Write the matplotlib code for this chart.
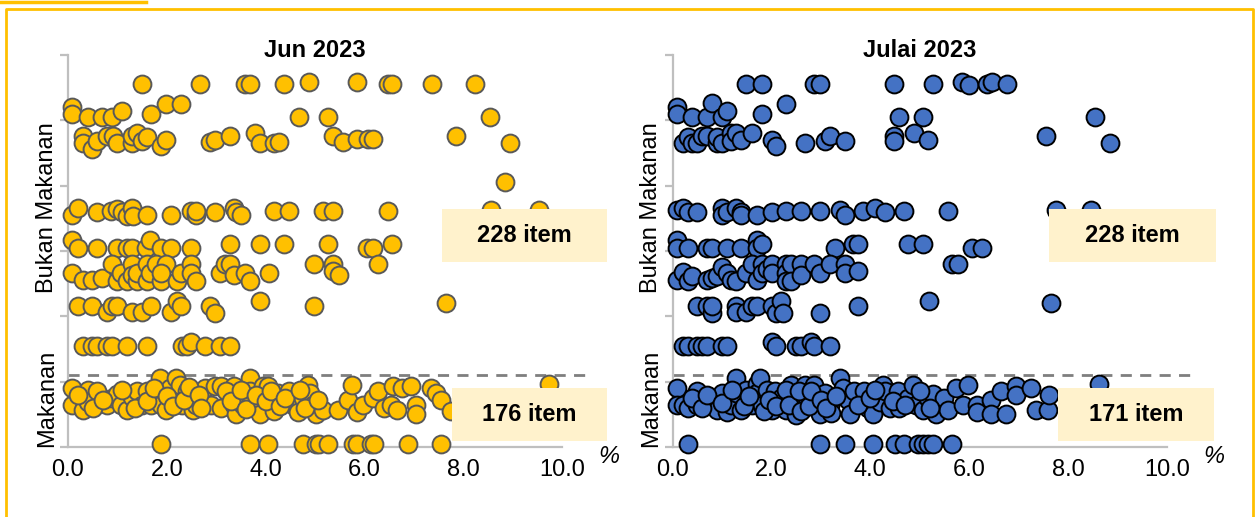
import matplotlib
matplotlib.use("Agg")
import matplotlib.pyplot as plt
from matplotlib.patches import Rectangle
from matplotlib.lines import Line2D

plt.rcParams['font.family'] = ['Liberation Sans', 'DejaVu Sans']

# ---- data: x = perubahan harga (%), y = posisi baris (jitter) ----
titles = ['Jun 2023', 'Julai 2023']
x_ticks = [0, 2, 4, 6, 8, 10]
tick_labels = ['0.0', '2.0', '4.0', '6.0', '8.0', '10.0']
group_labels = ['Bukan Makanan', 'Makanan']
count_bm = ['228 item', '228 item']
count_mk = ['176 item', '171 item']
split_line = 1.10

# Jun 2023 - bukan makanan
jun_bm_x = [1.50, 2.68, 3.58, 3.68, 4.37, 4.87, 5.86, 6.47, 6.56, 7.36, 8.24,
            0.09, 0.09, 0.40, 0.69, 0.89, 1.09, 1.69, 1.98, 2.28, 4.67, 5.27, 8.55,
            0.30, 0.30, 0.49, 0.59, 0.79, 0.92, 1.00, 1.29, 1.29, 1.39, 1.50, 1.60,
            1.88, 1.98, 2.88, 2.98, 3.27, 3.78, 3.88, 4.18, 4.27, 5.36, 5.56, 5.86,
            6.07, 6.17, 7.85, 8.94, 8.85,
            0.09, 0.21, 0.59, 0.88, 1.00, 1.10, 1.20, 1.29, 1.31, 1.59, 2.09, 2.48,
            2.59, 2.59, 2.97, 3.37, 3.41, 3.51, 4.18, 4.47, 5.16, 5.37, 6.47, 8.56, 9.54,
            0.09, 0.21, 0.59, 1.00, 1.19, 1.29, 1.58, 1.67, 1.89, 2.09, 2.48, 3.27,
            3.88, 4.37, 5.27, 6.05, 6.17, 6.55,
            0.09, 0.30, 0.49, 0.69, 0.89, 1.00, 1.08, 1.19, 1.29, 1.29, 1.39, 1.39,
            1.59, 1.60, 1.67, 1.79, 1.89, 1.99, 1.89, 2.20, 2.28, 2.48, 2.48, 2.59,
            3.07, 3.17, 3.27, 3.37, 3.58, 3.68, 4.07, 4.97, 5.36, 5.37, 5.48, 6.27,
            0.21, 0.49, 0.79, 0.89, 1.00, 1.29, 1.49, 1.69, 2.09, 2.20, 2.28, 2.88,
            2.98, 3.88, 4.97, 7.65,
            0.30, 0.49, 0.59, 0.79, 0.89, 1.19, 1.59, 2.30, 2.40, 2.48, 2.78, 3.07, 3.27]
jun_bm_y = [5.55, 5.55, 5.55, 5.55, 5.55, 5.59, 5.59, 5.55, 5.55, 5.55, 5.55,
            5.21, 5.10, 5.05, 5.05, 5.05, 5.15, 5.10, 5.25, 5.25, 5.05, 5.05, 5.05,
            4.76, 4.65, 4.56, 4.69, 4.76, 4.76, 4.65, 4.65, 4.76, 4.80, 4.69, 4.75,
            4.61, 4.70, 4.67, 4.70, 4.76, 4.80, 4.65, 4.66, 4.67, 4.76, 4.67, 4.71,
            4.71, 4.71, 4.76, 4.66, 4.05,
            3.55, 3.66, 3.60, 3.61, 3.65, 3.60, 3.54, 3.66, 3.54, 3.55, 3.55, 3.61,
            3.55, 3.61, 3.60, 3.66, 3.60, 3.55, 3.61, 3.61, 3.61, 3.61, 3.61, 3.62, 3.62,
            3.17, 3.04, 3.05, 3.05, 3.05, 3.05, 3.04, 3.17, 3.05, 3.04, 3.05, 3.10,
            3.10, 3.10, 3.10, 3.04, 3.05, 3.10,
            2.66, 2.56, 2.56, 2.59, 2.80, 2.54, 2.66, 2.54, 2.80, 2.63, 2.54, 2.66,
            2.80, 2.54, 2.66, 2.80, 2.54, 2.80, 2.66, 2.54, 2.66, 2.80, 2.66, 2.54,
            2.67, 2.80, 2.80, 2.63, 2.67, 2.54, 2.66, 2.80, 2.80, 2.70, 2.63, 2.80,
            2.16, 2.16, 2.06, 2.16, 2.16, 2.06, 2.06, 2.16, 2.06, 2.23, 2.16, 2.16,
            2.05, 2.23, 2.16, 2.21,
            1.55, 1.55, 1.55, 1.55, 1.55, 1.55, 1.55, 1.55, 1.55, 1.60, 1.55, 1.55, 1.55]

# Jun 2023 - makanan
jun_mk_x = [0.09, 0.09, 0.30, 0.40, 0.40, 0.59, 0.78, 0.89, 1.00, 1.08, 1.19, 1.29,
            1.39, 1.49, 1.59, 1.69, 1.86, 1.89, 1.89, 1.99, 2.06, 2.18, 2.18, 2.26,
            2.30, 2.40, 2.50, 2.53, 2.60, 2.77, 2.90, 2.97, 3.10, 3.10, 3.37, 3.37,
            3.41, 3.54, 3.68, 3.68, 3.71, 3.88, 3.95, 4.05, 4.15, 4.18, 4.25, 4.48,
            4.55, 4.65, 4.75, 4.85, 4.89, 4.96, 5.02, 5.16, 5.46, 5.66, 5.75, 5.86,
            5.97, 6.17, 6.27, 6.40, 6.54, 6.57, 6.67, 6.77, 6.94, 7.04, 7.04, 7.35,
            7.45, 7.55, 7.75, 9.74,
            0.20, 0.50, 0.70, 1.10, 1.35, 1.60, 1.75, 2.00, 2.12, 2.35, 2.45, 2.65,
            2.70, 3.20, 3.30, 3.50, 3.60, 3.80, 4.00, 4.10, 4.30, 4.40, 4.70, 4.80, 5.06,
            1.89, 3.68, 4.05, 4.75, 5.02, 5.09, 5.26, 5.76, 5.86, 6.13, 6.20, 6.88, 7.55]
jun_mk_y = [0.90, 0.65, 0.57, 0.87, 0.69, 0.85, 0.65, 0.75, 0.81, 0.65, 0.57, 0.77,
            0.85, 0.65, 0.86, 0.64, 1.05, 0.82, 0.65, 0.57, 0.90, 1.05, 0.75, 0.95,
            0.65, 0.85, 0.75, 0.57, 0.65, 0.90, 0.65, 0.94, 0.94, 0.60, 0.94, 0.65,
            0.50, 0.65, 1.05, 0.85, 0.72, 0.50, 0.94, 0.94, 0.65, 0.55, 0.82, 0.86,
            0.65, 0.54, 0.75, 0.95, 0.82, 0.65, 0.50, 0.57, 0.57, 0.72, 0.95, 0.54,
            0.65, 0.75, 0.86, 0.59, 0.64, 0.94, 0.57, 0.90, 0.94, 0.65, 0.50, 0.90,
            0.82, 0.72, 0.55, 0.97,
            0.80, 0.60, 0.72, 0.88, 0.60, 0.70, 0.90, 0.78, 0.62, 0.72, 0.92, 0.80,
            0.60, 0.85, 0.70, 0.88, 0.58, 0.80, 0.70, 0.85, 0.62, 0.75, 0.88, 0.60, 0.72,
            0.04, 0.04, 0.04, 0.04, 0.04, 0.04, 0.04, 0.04, 0.04, 0.04, 0.04, 0.04, 0.04]

# Julai 2023 - bukan makanan
jul_bm_x = [1.49, 1.80, 2.87, 2.98, 4.48, 5.27, 5.86, 5.99, 6.36, 6.46, 6.76,
            0.09, 0.09, 0.40, 0.70, 0.79, 0.99, 1.09, 1.80, 2.29, 4.58, 5.06, 8.55,
            0.20, 0.30, 0.40, 0.50, 0.60, 0.70, 0.89, 0.89, 0.99, 1.19, 1.19, 1.29,
            1.39, 1.60, 2.00, 2.09, 2.67, 3.08, 3.18, 3.48, 4.48, 4.48, 4.88, 5.17,
            7.56, 8.85,
            0.09, 0.20, 0.30, 0.50, 0.99, 0.99, 1.09, 1.29, 1.39, 1.39, 1.70, 2.00,
            2.29, 2.59, 2.99, 3.38, 3.48, 3.86, 4.09, 4.29, 4.68, 5.57, 7.76, 8.46,
            0.09, 0.09, 0.30, 0.70, 0.80, 1.09, 1.39, 1.70, 1.70, 1.80, 3.28, 3.65,
            3.76, 4.76, 5.06, 6.06, 6.26,
            0.09, 0.20, 0.30, 0.40, 0.70, 0.80, 0.89, 0.99, 1.09, 1.19, 1.29, 1.49,
            1.60, 1.70, 1.80, 1.80, 1.90, 2.00, 2.00, 2.29, 2.29, 2.29, 2.39, 2.39,
            2.59, 2.59, 2.87, 2.99, 3.18, 3.48, 3.48, 3.76, 5.66, 5.77,
            0.50, 0.70, 0.80, 0.80, 1.29, 1.29, 1.49, 1.60, 1.70, 2.00, 2.10, 2.20,
            2.23, 2.99, 3.76, 5.19, 7.66,
            0.20, 0.30, 0.50, 0.60, 0.70, 0.99, 1.09, 2.00, 2.10, 2.49, 2.59, 2.79,
            2.87, 3.18]
jul_bm_y = [5.55, 5.55, 5.55, 5.55, 5.55, 5.55, 5.59, 5.54, 5.55, 5.59, 5.55,
            5.21, 5.10, 5.05, 5.05, 5.26, 5.05, 5.15, 5.10, 5.25, 5.05, 5.05, 5.05,
            4.65, 4.75, 4.65, 4.65, 4.76, 4.76, 4.65, 4.75, 4.65, 4.80, 4.68, 4.80,
            4.70, 4.80, 4.70, 4.60, 4.65, 4.68, 4.76, 4.68, 4.76, 4.69, 4.80, 4.70,
            4.76, 4.66,
            3.63, 3.66, 3.60, 3.59, 3.66, 3.55, 3.60, 3.66, 3.60, 3.55, 3.55, 3.60,
            3.61, 3.61, 3.61, 3.63, 3.55, 3.61, 3.66, 3.60, 3.61, 3.61, 3.62, 3.62,
            3.17, 3.05, 3.04, 3.05, 3.05, 3.05, 3.05, 3.17, 3.05, 3.10, 3.05, 3.10,
            3.10, 3.10, 3.10, 3.04, 3.05,
            2.56, 2.68, 2.54, 2.61, 2.56, 2.58, 2.61, 2.76, 2.66, 2.56, 2.54, 2.66,
            2.80, 2.56, 2.80, 2.66, 2.73, 2.80, 2.67, 2.80, 2.66, 2.54, 2.80, 2.54,
            2.80, 2.63, 2.80, 2.66, 2.80, 2.80, 2.66, 2.70, 2.80, 2.80,
            2.16, 2.16, 2.05, 2.16, 2.16, 2.06, 2.06, 2.16, 2.16, 2.16, 2.05, 2.23,
            2.05, 2.05, 2.16, 2.23, 2.21,
            1.55, 1.55, 1.55, 1.55, 1.55, 1.55, 1.55, 1.60, 1.55, 1.55, 1.55, 1.61,
            1.55, 1.55]

# Julai 2023 - makanan
jul_mk_x = [0.09, 0.09, 0.20, 0.30, 0.50, 0.50, 0.79, 0.89, 0.99, 1.09, 1.19, 1.29,
            1.29, 1.39, 1.49, 1.60, 1.70, 1.70, 1.76, 1.80, 1.90, 2.00, 2.07, 2.20,
            2.29, 2.40, 2.47, 2.50, 2.57, 2.67, 2.71, 2.87, 2.91, 2.98, 3.08, 3.18,
            3.21, 3.38, 3.45, 3.55, 3.58, 3.68, 3.88, 3.95, 4.05, 4.19, 4.26, 4.29,
            4.39, 4.56, 4.58, 4.76, 4.86, 4.93, 5.06, 5.16, 5.27, 5.33, 5.50, 5.57,
            5.74, 5.87, 5.97, 6.17, 6.17, 6.44, 6.44, 6.65, 6.75, 6.95, 6.95, 7.25,
            7.35, 7.59, 7.62, 8.63,
            0.40, 0.60, 0.70, 1.00, 1.20, 1.45, 1.55, 1.85, 1.95, 2.10, 2.30, 2.35,
            2.55, 2.60, 2.75, 2.80, 3.00, 3.10, 3.30, 3.75, 4.00, 4.10, 4.45, 4.70,
            5.00, 5.20,
            0.30, 2.99, 3.48, 4.05, 4.49, 4.69, 4.96, 5.06, 5.16, 5.27, 5.66]
jul_mk_y = [0.90, 0.65, 0.65, 0.59, 0.85, 0.65, 0.65, 0.57, 0.82, 0.54, 0.65, 1.05,
            0.82, 0.57, 0.87, 0.65, 0.97, 0.82, 1.05, 0.65, 0.87, 0.57, 0.85, 0.75,
            0.57, 0.95, 0.75, 0.49, 0.62, 0.95, 0.75, 0.95, 0.65, 0.50, 0.82, 0.65,
            0.52, 1.05, 0.90, 0.72, 0.50, 0.85, 0.85, 0.59, 0.50, 0.69, 0.95, 0.86,
            0.59, 0.85, 0.60, 0.75, 0.95, 0.64, 0.57, 0.75, 0.81, 0.50, 0.75, 0.57,
            0.90, 0.65, 0.95, 0.65, 0.54, 0.72, 0.50, 0.85, 0.50, 0.94, 0.80, 0.90,
            0.57, 0.57, 0.80, 0.97,
            0.75, 0.60, 0.80, 0.68, 0.88, 0.62, 0.78, 0.55, 0.72, 0.62, 0.88, 0.65,
            0.85, 0.55, 0.62, 0.85, 0.72, 0.60, 0.78, 0.65, 0.75, 0.88, 0.70, 0.65,
            0.85, 0.60,
            0.04, 0.04, 0.04, 0.04, 0.04, 0.04, 0.04, 0.04, 0.04, 0.04, 0.04]

panels = [
    (jun_bm_x + jun_mk_x, jun_bm_y + jun_mk_y, '#FFC000', '#595959'),
    (jul_bm_x + jul_mk_x, jul_bm_y + jul_mk_y, '#4472C4', '#000000'),
]

W, H = 1255, 517
fig = plt.figure(figsize=(W / 100, H / 100), dpi=100)

axes_left = [68, 672.7]
ax_w = 494
ax_bottom = 447
ax_top = 55

box_bm = [(7.57, 10.91), (7.61, 10.99)]
box_mk = [(7.77, 10.91), (7.79, 10.96)]
box_col = '#FFF2CC'
grid_col = '#BFBFBF'

for i, (xs, ys, fc, ec) in enumerate(panels):
    ax = fig.add_axes([axes_left[i] / W, (H - ax_bottom) / H,
                       ax_w / W, (ax_bottom - ax_top) / H])
    ax.scatter(xs, ys, s=165, c=fc, edgecolors=ec, linewidths=1.4,
               zorder=3, clip_on=False)
    ax.set_xlim(0, 10)
    ax.set_ylim(0, 6)
    for s in ['top', 'right']:
        ax.spines[s].set_visible(False)
    for s in ['left', 'bottom']:
        ax.spines[s].set_color(grid_col)
        ax.spines[s].set_linewidth(1.6)
    ax.set_yticks(range(7))
    ax.set_yticklabels([])
    ax.tick_params(axis='y', direction='out', length=6, width=1.6, color=grid_col)
    ax.set_xticks(x_ticks)
    ax.set_xticklabels(tick_labels, fontsize=17)
    ax.tick_params(axis='x', length=0, pad=9)

    # garis pemisah
    ax.plot([0, 10.6], [split_line, split_line], ls=(0, (4, 3)), color='#7F7F7F',
            lw=2, zorder=2, clip_on=False)

    # judul
    ax.text(0.5, 0.995, titles[i], transform=ax.transAxes, ha='center',
            va='baseline', fontsize=17, fontweight='bold')

    # label kelompok
    tr = ax.get_yaxis_transform()
    ax.text(-0.043, 3.67, group_labels[0], transform=tr, rotation=90,
            ha='center', va='center', fontsize=17)
    ax.text(-0.043, 0.75, group_labels[1], transform=tr, rotation=90,
            ha='center', va='center', fontsize=17)

    ax.text(10.95, -0.15, '%', ha='center', va='center', fontsize=17,
            style='italic', clip_on=False)

    # kotak jumlah item
    for (x0, x1), (y0, y1), lab in [(box_bm[i], (2.83, 3.64), count_bm[i]),
                                     (box_mk[i], (0.09, 0.90), count_mk[i])]:
        ax.add_patch(Rectangle((x0, y0), x1 - x0, y1 - y0, facecolor=box_col,
                               edgecolor='none', zorder=5, clip_on=False))
        ax.text((x0 + x1) / 2, (y0 + y1) / 2, lab, ha='center', va='center',
                fontsize=17, fontweight='bold', zorder=6, clip_on=False)

# bingkai emas
gold = '#FFC000'
fig.add_artist(Line2D([0, 146 / W], [1 - 1.5 / H, 1 - 1.5 / H],
                      transform=fig.transFigure, color=gold, lw=2.5))
fig.add_artist(Line2D([5.5 / W, 5.5 / W, 1252.5 / W, 1252.5 / W],
                      [0, 1 - 8.5 / H, 1 - 8.5 / H, 0],
                      transform=fig.transFigure, color=gold, lw=2))

fig.savefig('out.png', dpi=100)
